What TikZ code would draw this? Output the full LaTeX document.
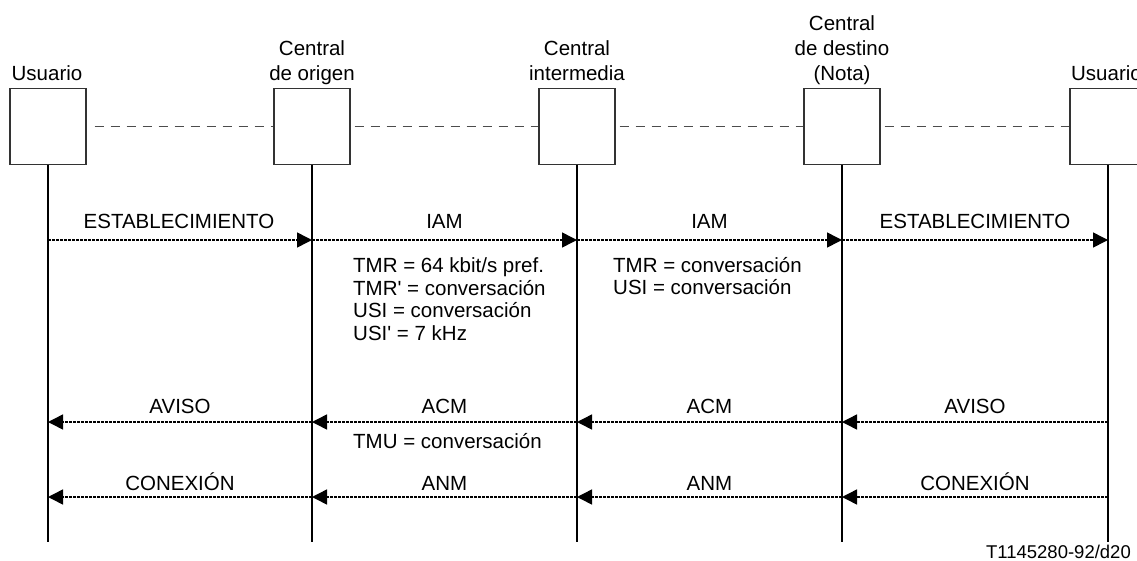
\documentclass[tikz,border=0pt]{standalone}
\usepackage{fontspec}
\setmainfont{Liberation Sans}
\usetikzlibrary{arrows.meta}
\begin{document}
\begin{tikzpicture}[x=1pt,y=-1pt,
  font=\fontsize{20.5}{25}\selectfont,
  box/.style={draw=black!80,line width=1.3pt,minimum size=76pt,inner sep=0pt},
  life/.style={line width=2pt},
  link/.style={draw=black!70,line width=1pt,dash pattern=on 9pt off 7pt},
  msg/.style={line width=1.5pt,dash pattern=on 3pt off 1pt,-{Triangle[length=15pt,width=15pt]}},
  lbl/.style={anchor=base,inner sep=0pt},
  hdr/.style={anchor=base,inner sep=0pt,align=center},
  note/.style={anchor=base west,inner sep=0pt,align=left,font=\fontsize{20.5}{22.5}\selectfont},
]
\useasboundingbox (0,0) rectangle (1137,560);
\clip (0,0) rectangle (1137,560);

% headers (anchor = baseline of last line)
\node[hdr] (h1) at (47,80) {Usuario};
\node[hdr] (h2) at (312,80) {Central\\de origen};
\node[hdr] (h3) at (577,80) {Central\\intermedia};
\node[hdr] (h4) at (842,80) {Central\\de destino\\(Nota)};
\node[hdr] (h5) at (1106.5,80) {Usuario};

% boxes
\node[box] (b1) at (48,126.5) {};
\node[box] (b2) at (312,126.5) {};
\node[box] (b3) at (577,126.5) {};
\node[box] (b4) at (842,126.5) {};
\node[box] (b5) at (1108,126.5) {};

% dashed links
\draw[link] ([xshift=8pt]b1.east) -- (b2.west);
\draw[link] ([xshift=4pt]b2.east) -- (b3.west);
\draw[link] ([xshift=4pt]b3.east) -- (b4.west);
\draw[link] ([xshift=4pt]b4.east) -- (b5.west);

% lifelines
\coordinate (e1) at (48,542);
\coordinate (e2) at (312,542);
\coordinate (e3) at (577,542);
\coordinate (e4) at (842,542);
\coordinate (e5) at (1108,542);
\foreach \i in {1,...,5} \draw[life] (b\i.south) -- (e\i);

% message points
\foreach \i/\x in {1/48,2/312,3/577,4/842,5/1108}{
  \coordinate (p\i) at (\x,240);
  \coordinate (q\i) at (\x,422);
  \coordinate (r\i) at (\x,497);
}

% forward messages
\draw[msg] (p1) -- (p2);
\draw[msg] (p2) -- (p3);
\draw[msg] (p3) -- (p4);
\draw[msg] (p4) -- (p5);
\node[lbl] (m1) at (179,228) {ESTABLECIMIENTO};
\node[lbl] (m2) at (444.5,228) {IAM};
\node[lbl] (m3) at (709.5,228) {IAM};
\node[lbl] (m4) at (975,228) {ESTABLECIMIENTO};

% backward messages
\draw[msg] (q5) -- (q4);
\draw[msg] (q4) -- (q3);
\draw[msg] (q3) -- (q2);
\draw[msg] (q2) -- (q1);
\node[lbl] (n1) at (180,413) {AVISO};
\node[lbl] (n2) at (444.5,413) {ACM};
\node[lbl] (n3) at (709.5,413) {ACM};
\node[lbl] (n4) at (975,413) {AVISO};

\draw[msg] (r5) -- (r4);
\draw[msg] (r4) -- (r3);
\draw[msg] (r3) -- (r2);
\draw[msg] (r2) -- (r1);
\node[lbl] (k1) at (180,490) {CONEXIÓN};
\node[lbl] (k2) at (444.5,490) {ANM};
\node[lbl] (k3) at (709.5,490) {ANM};
\node[lbl] (k4) at (975,490) {CONEXIÓN};

% notes (anchor = baseline of last line)
\node[note] (t1) at (353,340) {TMR = 64 kbit/s pref.\\TMR\textquotesingle{} = conversación\\USI = conversación\\USI\textquotesingle{} = 7 kHz};
\node[note] (t2) at (613,294.5) {TMR = conversación\\USI = conversación};
\node[note] (t3) at (353,448) {TMU = conversación};

\node[anchor=base east,inner sep=0pt,font=\fontsize{18.5}{22}\selectfont] (id) at (1131,558) {T1145280-92/d20};
\end{tikzpicture}
\end{document}
